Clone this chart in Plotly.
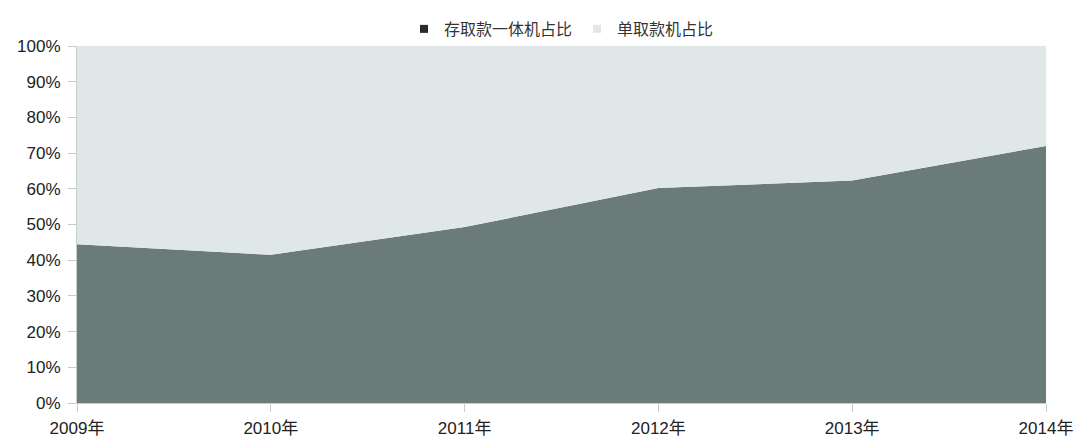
import plotly.graph_objects as go

years = ["2009年", "2010年", "2011年", "2012年", "2013年", "2014年"]
combo_share = [44.5, 41.5, 49.3, 60.2, 62.3, 72.0]
withdraw_share = [round(100 - v, 1) for v in combo_share]
y_ticks = [0, 10, 20, 30, 40, 50, 60, 70, 80, 90, 100]
y_tick_text = [f"{v}%" for v in y_ticks]
series_names = ["存取款一体机占比", "单取款机占比"]
series_colors = ["#6b7b78", "#dfe7e9"]
legend_colors = ["#2a2a2a", "#dfe7e9"]

x_idx = list(range(len(years)))

fig = go.Figure()
fig.add_trace(go.Scatter(
    x=x_idx, y=combo_share, name=series_names[0],
    stackgroup="one", mode="none", fillcolor=series_colors[0], showlegend=False,
))
fig.add_trace(go.Scatter(
    x=x_idx, y=withdraw_share, name=series_names[1],
    stackgroup="one", mode="none", fillcolor=series_colors[1], showlegend=False,
))
for name, col in zip(series_names, legend_colors):
    fig.add_trace(go.Scatter(
        x=[None], y=[None], name=name, mode="markers",
        marker=dict(symbol="square", size=8, color=col),
    ))

fig.update_layout(
    width=1081, height=441,
    margin=dict(l=77, r=35, t=46, b=38),
    paper_bgcolor="white", plot_bgcolor="white",
    font=dict(family="Liberation Sans, Arial, sans-serif", size=17, color="#222"),
    showlegend=True,
    legend=dict(orientation="h", x=0.5, xanchor="center", y=1.0, yanchor="bottom",
                font=dict(family="Noto Sans CJK SC", size=16, color="#333"),
                itemwidth=30, traceorder="normal", tracegroupgap=0),
    hovermode=False,
)
fig.update_xaxes(
    tickmode="array", tickvals=x_idx, ticktext=years, range=[0, len(years) - 1],
    showgrid=False, showline=True, linecolor="#c8cccc", ticks="outside",
    ticklen=8, tickcolor="#c8cccc", zeroline=False, ticklabelstandoff=2,
    automargin=False,
    tickfont=dict(family="Liberation Sans, Noto Sans CJK SC", size=17),
)
fig.update_yaxes(
    tickmode="array", tickvals=y_ticks, ticktext=y_tick_text, range=[0, 100],
    showgrid=False, showline=True, linecolor="#c8cccc", ticks="outside",
    ticklen=8, tickcolor="#c8cccc", zeroline=False, ticklabelstandoff=4,
    automargin=False,
    tickfont=dict(family="Liberation Sans", size=17),
)

fig.write_html("out.html")
